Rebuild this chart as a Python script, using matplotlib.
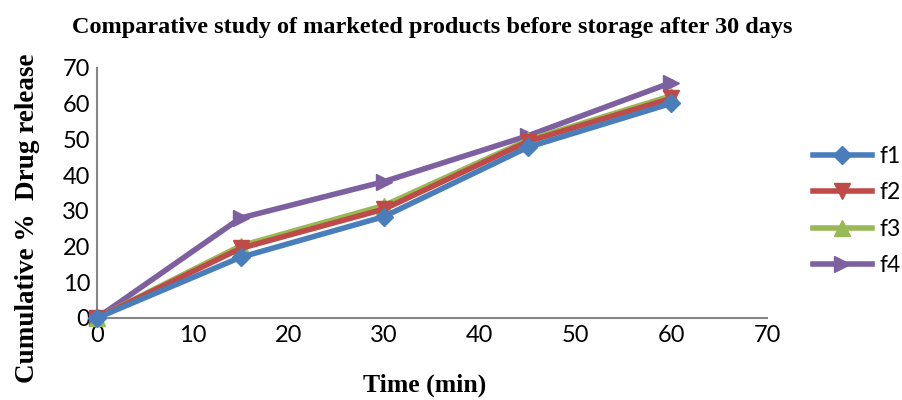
import matplotlib
matplotlib.use("Agg")
import matplotlib.pyplot as plt
from matplotlib.lines import Line2D

time = [0, 15, 30, 45, 60]
f1 = [0, 17.0, 28.4, 47.8, 60.1]
f2 = [0, 19.5, 30.5, 49.4, 61.5]
f3 = [0, 20.2, 31.5, 49.8, 62.2]
f4 = [0, 28.0, 38.2, 51.0, 65.9]
labels = ["f1", "f2", "f3", "f4"]
colors = ["#4a7ebb", "#be4b48", "#98b954", "#7d60a0"]
markers = ["D", "v", "^", ">"]

fig = plt.figure(figsize=(9.02, 4.0), dpi=100)
ax = fig.add_axes([0.1075, 0.205, 0.7428, 0.625])

series = [f1, f2, f3, f4]
order = [3, 2, 1, 0]
for i in order:
    ms = 9 if markers[i] == "D" else 12
    ax.plot(time, series[i], color=colors[i], lw=4, marker=markers[i], ms=ms,
            mec=colors[i], mfc=colors[i], zorder=3 + (3 - i), clip_on=False)

ax.set_xlim(0, 70)
ax.set_ylim(0, 70)
ax.set_xticks(range(0, 71, 10))
ax.set_yticks(range(0, 71, 10))
for s in ["top", "right"]:
    ax.spines[s].set_visible(False)
for s in ["left", "bottom"]:
    ax.spines[s].set_color("#868686")
    ax.spines[s].set_linewidth(1.5)
ax.tick_params(length=0, labelsize=17, pad=5)
for lab in ax.get_xticklabels() + ax.get_yticklabels():
    lab.set_fontfamily("Lato")

fig.text(0.479, 0.93, "Comparative study of marketed products before storage after 30 days",
         ha="center", va="center", fontsize=17.5, fontweight="bold", family="Liberation Serif")
fig.text(0.03, 0.455, "Cumulative %  Drug release", rotation=90, ha="center", va="center",
         fontsize=19.5, fontweight="bold", family="Liberation Serif")
fig.text(0.471, 0.038, "Time (min)", ha="center", va="center",
         fontsize=18.5, fontweight="bold", family="Liberation Serif")

handles = []
for i in range(4):
    ms = 9 if markers[i] == "D" else 12
    handles.append(Line2D([0], [0], color=colors[i], lw=4, marker=markers[i], ms=ms,
                          mec=colors[i], mfc=colors[i]))
leg = fig.legend(handles, labels, loc="center left", bbox_to_anchor=(0.901, 0.4725),
                 frameon=False, handlelength=2.6, labelspacing=0.66, handletextpad=0.3,
                 borderpad=0, borderaxespad=0,
                 prop={"family": "Lato", "size": 16.5})

fig.savefig("out.png", dpi=100)
